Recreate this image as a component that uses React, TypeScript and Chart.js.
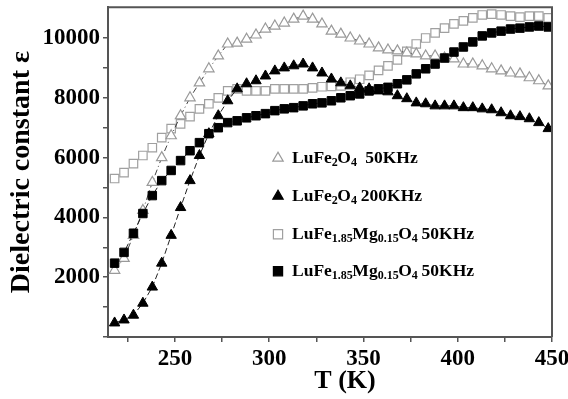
import React, { useEffect, useRef } from 'react';
import { Chart, registerables } from 'chart.js';

Chart.register(...registerables);

// Temperature (K) of every measured point
const temperatures = [
  218, 223, 228, 233, 238, 243, 248, 253, 258, 263,
  268, 273, 278, 283, 288, 293, 298, 303, 308, 313,
  318, 323, 328, 333, 338, 343, 348, 353, 358, 363,
  368, 373, 378, 383, 388, 393, 398, 403, 408, 413,
  418, 423, 428, 433, 438, 443, 448,
];

// LuFe2O4 50KHz (open triangles)
const lufe50 = [
  2230, 2630, 3400, 4230, 5170, 6000, 6730, 7400, 8000, 8500,
  8970, 9400, 9800, 9830, 9960, 10100, 10300, 10400, 10500, 10630,
  10730, 10630, 10470, 10230, 10130, 10000, 9900, 9800, 9670, 9600,
  9570, 9500, 9470, 9400, 9400, 9330, 9300, 9130, 9130, 9070,
  8970, 8900, 8830, 8800, 8670, 8570, 8400,
];

// LuFe2O4 200KHz (filled triangles)
const lufe200 = [
  470, 570, 730, 1130, 1670, 2470, 3400, 4330, 5230, 6070,
  6800, 7400, 7900, 8300, 8470, 8570, 8730, 8900, 9000, 9070,
  9130, 9000, 8830, 8630, 8500, 8400, 8330, 8300, 8230, 8200,
  8070, 7970, 7830, 7800, 7730, 7730, 7730, 7670, 7670, 7630,
  7600, 7500, 7400, 7370, 7300, 7170, 6970,
];

// LuFe1.85Mg0.15O4 50KHz (open squares)
const mgOpen = [
  5300, 5500, 5800, 6070, 6330, 6670, 6970, 7130, 7370, 7630,
  7800, 8000, 8230, 8300, 8230, 8230, 8230, 8300, 8300, 8300,
  8300, 8330, 8370, 8380, 8400, 8520, 8620, 8750, 8920, 9070,
  9270, 9550, 9800, 10000, 10170, 10330, 10470, 10570, 10670, 10770,
  10800, 10770, 10730, 10700, 10730, 10730, 10670,
];

// LuFe1.85Mg0.15O4 50KHz (filled squares)
const mgFilled = [
  2470, 2830, 3470, 4130, 4730, 5230, 5570, 5900, 6230, 6500,
  6800, 7000, 7170, 7230, 7330, 7400, 7470, 7570, 7630, 7670,
  7730, 7800, 7830, 7900, 8000, 8070, 8130, 8230, 8300, 8350,
  8470, 8600, 8800, 8970, 9130, 9330, 9530, 9700, 9870, 10070,
  10170, 10230, 10300, 10330, 10370, 10400, 10370,
];

const xTickLabels = [250, 300, 350, 400, 450];
const yTickLabels = [2000, 4000, 6000, 8000, 10000];
const xTitle = 'T (K)';
const yTitle = 'Dielectric constant \u03b5';

type Part = { t: string; sub?: boolean };
const legendLabels: Part[][] = [
  [{ t: 'LuFe' }, { t: '2', sub: true }, { t: 'O' }, { t: '4', sub: true }, { t: '  50KHz' }],
  [{ t: 'LuFe' }, { t: '2', sub: true }, { t: 'O' }, { t: '4', sub: true }, { t: ' 200KHz' }],
  [{ t: 'LuFe' }, { t: '1.85', sub: true }, { t: 'Mg' }, { t: '0.15', sub: true }, { t: 'O' }, { t: '4', sub: true }, { t: ' 50KHz' }],
  [{ t: 'LuFe' }, { t: '1.85', sub: true }, { t: 'Mg' }, { t: '0.15', sub: true }, { t: 'O' }, { t: '4', sub: true }, { t: ' 50KHz' }],
];
const legendMarkers = [
  { shape: 'triangle', fill: '#ffffff', stroke: '#9a9a9a' },
  { shape: 'triangle', fill: '#000000', stroke: '#000000' },
  { shape: 'rect', fill: '#ffffff', stroke: '#a0a0a0' },
  { shape: 'rect', fill: '#000000', stroke: '#000000' },
];

const SERIF = '"Liberation Serif", "Times New Roman", serif';

function drawMarker(ctx: CanvasRenderingContext2D, shape: string, x: number, y: number, r: number, fill: string, stroke: string) {
  ctx.beginPath();
  if (shape === 'triangle') {
    ctx.moveTo(x, y - r);
    ctx.lineTo(x - r * 0.866, y + r * 0.5);
    ctx.lineTo(x + r * 0.866, y + r * 0.5);
    ctx.closePath();
  } else {
    const h = r * Math.SQRT1_2;
    ctx.rect(x - h, y - h, 2 * h, 2 * h);
  }
  ctx.fillStyle = fill;
  ctx.fill();
  ctx.strokeStyle = stroke;
  ctx.lineWidth = 1.2;
  ctx.stroke();
}

const decorPlugin = {
  id: 'decor',
  afterDraw(chart: any) {
    const { ctx, chartArea: a } = chart;
    ctx.save();
    // top & right frame
    ctx.strokeStyle = '#555';
    ctx.lineWidth = 2;
    ctx.beginPath();
    ctx.moveTo(a.left, a.top);
    ctx.lineTo(a.right, a.top);
    ctx.lineTo(a.right, a.bottom);
    ctx.stroke();

    // legend
    const rowsY = [151, 189, 227, 264];
    legendLabels.forEach((parts, i) => {
      const y = a.top + rowsY[i];
      const m = legendMarkers[i];
      drawMarker(ctx, m.shape, a.left + 170, y, m.shape === 'triangle' ? 6 : 6.5, m.fill, m.stroke);
      let x = a.left + 184;
      ctx.fillStyle = '#000';
      ctx.textBaseline = 'middle';
      ctx.textAlign = 'left';
      parts.forEach((p) => {
        ctx.font = p.sub ? `bold 12px ${SERIF}` : `bold 17.5px ${SERIF}`;
        ctx.fillText(p.t, x, p.sub ? y + 5 : y);
        x += ctx.measureText(p.t).width - (p.sub ? 0.5 : 0);
      });
    });

    // x title
    ctx.font = `bold 26px ${SERIF}`;
    ctx.fillStyle = '#000';
    ctx.textAlign = 'center';
    ctx.textBaseline = 'middle';
    ctx.fillText(xTitle, a.left + 237, a.bottom + 44);
    ctx.restore();
  },
};

export default function App() {
  const ref = useRef<HTMLCanvasElement>(null);

  useEffect(() => {
    if (!ref.current) return;
    const mk = (arr: number[]) => temperatures.map((t, i) => ({ x: t, y: arr[i] }));
    const chart = new Chart(ref.current, {
      type: 'line',
      data: {
        datasets: [
          {
            label: 'LuFe2O4 200KHz',
            data: mk(lufe200),
            borderColor: '#222',
            borderWidth: 1,
            borderDash: [6, 3],
            pointStyle: 'triangle',
            pointRadius: 6,
            pointBackgroundColor: '#000',
            pointBorderColor: '#000',
            pointBorderWidth: 1,
          },
          {
            label: 'LuFe1.85Mg0.15O4 50KHz filled',
            data: mk(mgFilled),
            borderColor: '#222',
            borderWidth: 1,
            borderDash: [6, 3],
            pointStyle: 'rect',
            pointRadius: 6,
            pointBackgroundColor: '#000',
            pointBorderColor: '#000',
            pointBorderWidth: 1,
          },
          {
            label: 'LuFe2O4 50KHz',
            data: mk(lufe50),
            borderColor: '#444',
            borderWidth: 1,
            borderDash: [6, 3, 1, 3],
            pointStyle: 'triangle',
            pointRadius: 6,
            pointBackgroundColor: '#fff',
            pointBorderColor: '#9a9a9a',
            pointBorderWidth: 1.2,
          },
          {
            label: 'LuFe1.85Mg0.15O4 50KHz open',
            data: mk(mgOpen),
            showLine: false,
            pointStyle: 'rect',
            pointRadius: 6,
            pointBackgroundColor: '#fff',
            pointBorderColor: '#a0a0a0',
            pointBorderWidth: 1.2,
          },
        ],
      },
      options: {
        responsive: true,
        maintainAspectRatio: false,
        animation: false,
        layout: { padding: { top: 6, right: 16, left: 0, bottom: 0 } },
        plugins: { legend: { display: false }, tooltip: { enabled: false } },
        scales: {
          x: {
            type: 'linear',
            min: 214.5,
            max: 450,
            afterFit: (s: any) => { s.height = 62; s.paddingLeft = 0; s.paddingRight = 0; },
            afterBuildTicks: (s: any) => {
              s.ticks = [];
              for (let v = 225; v <= 450; v += 25) s.ticks.push({ value: v });
            },
            border: { color: '#555', width: 2 },
            grid: { drawOnChartArea: false, drawTicks: true, tickLength: 5, color: '#555', lineWidth: 1.5 },
            ticks: {
              padding: 3,
              maxRotation: 0,
              autoSkip: false,
              color: '#000',
              font: { family: SERIF, size: 23, weight: 'bold' },
              callback: (v: any) => (xTickLabels.includes(Number(v)) ? String(v) : ''),
            },
            title: { display: false, text: xTitle },
          },
          y: {
            type: 'linear',
            min: 0,
            max: 11030,
            afterFit: (s: any) => { s.width = 108; s.paddingTop = 0; s.paddingBottom = 0; },
            afterBuildTicks: (s: any) => {
              s.ticks = [];
              for (let v = 0; v <= 10000; v += 1000) s.ticks.push({ value: v });
            },
            border: { color: '#555', width: 2 },
            grid: { drawOnChartArea: false, drawTicks: true, tickLength: 5, color: '#555', lineWidth: 1.5 },
            ticks: {
              padding: 3,
              autoSkip: false,
              color: '#000',
              font: { family: SERIF, size: 23, weight: 'bold' },
              callback: (v: any) => (yTickLabels.includes(Number(v)) ? String(v) : ''),
            },
            title: {
              display: true,
              text: yTitle,
              color: '#000',
              font: { family: SERIF, size: 28, weight: 'bold' },
              padding: { top: 5, bottom: 0 },
            },
          },
        },
      },
      plugins: [decorPlugin],
    });
    return () => chart.destroy();
  }, []);

  return (
    <div style={{ position: 'fixed', left: 0, top: 0, width: 568, height: 399, background: '#fff' }}>
      <canvas ref={ref} />
    </div>
  );
}
